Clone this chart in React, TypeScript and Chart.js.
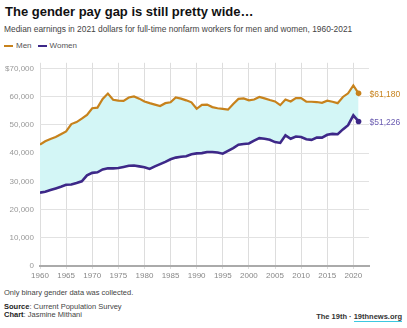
import React, { useEffect, useRef } from "react";
import { Chart, registerables } from "chart.js";

Chart.register(...registerables);

const years: number[] = [
  1960, 1961, 1962, 1963, 1964, 1965, 1966, 1967, 1968, 1969,
  1970, 1971, 1972, 1973, 1974, 1975, 1976, 1977, 1978, 1979,
  1980, 1981, 1982, 1983, 1984, 1985, 1986, 1987, 1988, 1989,
  1990, 1991, 1992, 1993, 1994, 1995, 1996, 1997, 1998, 1999,
  2000, 2001, 2002, 2003, 2004, 2005, 2006, 2007, 2008, 2009,
  2010, 2011, 2012, 2013, 2014, 2015, 2016, 2017, 2018, 2019,
  2020, 2021,
];

const men: number[] = [
  43000, 44200, 45000, 45700, 46700, 47700, 50300, 51000, 52200, 53500,
  55900, 56100, 59200, 61100, 58900, 58600, 58500, 59700, 60100, 59300,
  58300, 57700, 57200, 56700, 57700, 58000, 59700, 59300, 58700, 58000,
  55700, 57100, 57200, 56300, 55900, 55700, 55400, 57400, 59200, 59400,
  58700, 59000, 59900, 59400, 58800, 58300, 57000, 59000, 58300, 59500,
  59500, 58200, 58200, 58100, 57800, 58600, 58200, 57700, 59900, 61200,
  64000, 61180,
];

const women: number[] = [
  26000, 26300, 26900, 27500, 28100, 28800, 28900, 29400, 30000, 32100,
  33000, 33200, 34200, 34600, 34600, 34700, 35100, 35500, 35600, 35300,
  35000, 34400, 35300, 36100, 36900, 37800, 38400, 38700, 38900, 39600,
  39900, 40000, 40400, 40400, 40200, 39800, 40800, 41800, 43000, 43200,
  43400, 44400, 45300, 45100, 44700, 43900, 43600, 46300, 45100, 45900,
  45700, 44900, 44700, 45500, 45500, 46500, 46800, 46700, 48400, 49900,
  53400, 51226,
];

const seriesNames: string[] = ["Men", "Women"];
const xTickValues: number[] = [1960, 1965, 1970, 1975, 1980, 1985, 1990, 1995, 2000, 2005, 2010, 2015, 2020];
const yTickValues: number[] = [0, 10000, 20000, 30000, 40000, 50000, 60000, 70000];

const MEN_COLOR = "#c7821c";
const WOMEN_COLOR = "#3d2888";
const FONT = "Arial, 'Liberation Sans', Helvetica, sans-serif";

export default function App() {
  const canvasRef = useRef<HTMLCanvasElement | null>(null);

  useEffect(() => {
    document.body.style.margin = "0";
    const canvas = canvasRef.current;
    if (!canvas) return;
    const last = years.length - 1;

    const endLabels = {
      id: "endLabels",
      afterDatasetsDraw(chart: any) {
        const ctx = chart.ctx;
        const xs = chart.scales.x;
        const ys = chart.scales.y;
        const specs = [
          { v: men[last], c: MEN_COLOR },
          { v: women[last], c: "#6a5bb0" },
        ];
        ctx.save();
        ctx.font = `8.5px ${FONT}`;
        ctx.textAlign = "left";
        ctx.textBaseline = "middle";
        specs.forEach((s) => {
          ctx.fillStyle = s.c;
          ctx.fillText(
            "$" + s.v.toLocaleString("en-US"),
            xs.getPixelForValue(years[last]) + 11,
            ys.getPixelForValue(s.v) + 1
          );
        });
        ctx.restore();
      },
    };

    const chart = new Chart(canvas, {
      type: "line",
      data: {
        datasets: [
          {
            label: seriesNames[0],
            data: years.map((y, i) => ({ x: y, y: men[i] })),
            borderColor: MEN_COLOR,
            backgroundColor: "#d3f6f6",
            borderWidth: 2.2,
            fill: { target: 1 },
            pointRadius: (c: any) => (c.dataIndex === last ? 2.8 : 0),
            pointBackgroundColor: MEN_COLOR,
            pointBorderWidth: 0,
            tension: 0,
          },
          {
            label: seriesNames[1],
            data: years.map((y, i) => ({ x: y, y: women[i] })),
            borderColor: WOMEN_COLOR,
            backgroundColor: WOMEN_COLOR,
            borderWidth: 2.6,
            fill: false,
            pointRadius: (c: any) => (c.dataIndex === last ? 2.8 : 0),
            pointBackgroundColor: WOMEN_COLOR,
            pointBorderWidth: 0,
            tension: 0,
          },
        ],
      },
      options: {
        animation: false,
        responsive: false,
        maintainAspectRatio: false,
        layout: { padding: { top: 6, right: 38, left: 0, bottom: 0 } },
        plugins: {
          legend: { display: false },
          tooltip: { enabled: false },
          filler: { drawTime: "beforeDatasetsDraw" },
        },
        scales: {
          x: {
            type: "linear",
            min: 1960,
            max: 2023,
            afterBuildTicks: (s: any) => {
              s.ticks = xTickValues.map((v) => ({ value: v }));
            },
            afterFit: (s: any) => {
              s.height = 20;
            },
            ticks: {
              autoSkip: false,
              color: "#888",
              font: { size: 8, family: FONT },
              padding: 2,
              maxRotation: 0,
              callback: (v: any) => String(v),
            },
            grid: {
              color: "#dddddd",
              lineWidth: 1,
              tickLength: 3,
              drawTicks: true,
            },
            border: { display: true, color: "#aaaaaa", width: 2 },
          },
          y: {
            min: 0,
            max: 72000,
            afterBuildTicks: (s: any) => {
              s.ticks = yTickValues.map((v) => ({ value: v }));
            },
            afterFit: (s: any) => {
              s.width = 40;
            },
            ticks: {
              autoSkip: false,
              color: "#999",
              font: { size: 8, family: FONT },
              padding: 6,
              callback: (v: any) =>
                v === 70000 ? "$70,000" : Number(v).toLocaleString("en-US"),
            },
            grid: { color: "#e2e2e2", lineWidth: 1, drawTicks: false },
            border: { display: false },
          },
        },
      },
      plugins: [endLabels],
    });

    return () => chart.destroy();
  }, []);

  const text: React.CSSProperties = { position: "absolute", fontFamily: FONT, whiteSpace: "nowrap", margin: 0 };

  return (
    <div style={{ position: "absolute", left: 0, top: 0, width: 407, height: 328, background: "#fff", overflow: "hidden" }}>
      <div style={{ ...text, left: 5, top: 4, fontSize: 13, fontWeight: 700, color: "#111" }}>
        The gender pay gap is still pretty wide…
      </div>
      <div style={{ ...text, left: 4, top: 24, fontSize: 8.4, color: "#444" }}>
        Median earnings in 2021 dollars for full-time nonfarm workers for men and women, 1960-2021
      </div>
      <div style={{ ...text, left: 4, top: 41, fontSize: 8, color: "#555", display: "flex", alignItems: "center" }}>
        <span style={{ display: "inline-block", width: 9, height: 2, background: MEN_COLOR, marginRight: 3 }} />
        <span style={{ marginRight: 6 }}>{seriesNames[0]}</span>
        <span style={{ display: "inline-block", width: 9, height: 2, background: WOMEN_COLOR, marginRight: 3 }} />
        <span>{seriesNames[1]}</span>
      </div>
      <canvas
        ref={canvasRef}
        width={407}
        height={234}
        style={{ position: "absolute", left: 0, top: 52, width: 407, height: 234 }}
      />
      <div style={{ ...text, left: 4, top: 288, fontSize: 7.5, color: "#444" }}>
        Only binary gender data was collected.
      </div>
      <div style={{ ...text, left: 4, top: 303, fontSize: 7.5, color: "#444", lineHeight: "8px" }}>
        <div><b style={{ color: "#222" }}>Source</b>: Current Population Survey</div>
        <div><b style={{ color: "#222" }}>Chart</b>: Jasmine Mithani</div>
      </div>
      <div style={{ ...text, right: 5, top: 312, fontSize: 7.5, fontWeight: 700, color: "#333" }}>
        The 19th · <span style={{ borderBottom: "1px solid #3cc8e0" }}>19thnews.org</span>
      </div>
    </div>
  );
}
